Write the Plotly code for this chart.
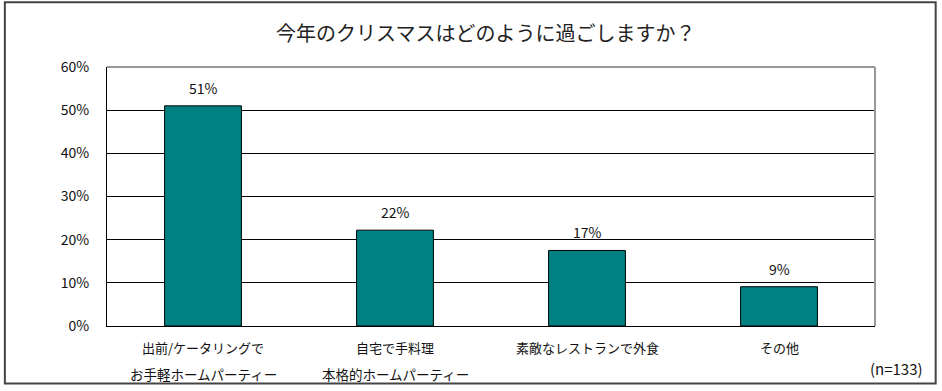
import plotly.graph_objects as go

categories = ["出前/ケータリングで", "自宅で手料理", "素敵なレストランで外食", "その他"]
second_lines = ["お手軽ホームパーティー", "本格的ホームパーティー", "", ""]
values = [51.0, 22.2, 17.5, 9.1]
value_labels = ["51%", "22%", "17%", "9%"]
tick_vals = [0, 10, 20, 30, 40, 50, 60]
tick_text = ["0%", "10%", "20%", "30%", "40%", "50%", "60%"]
title_text = "今年のクリスマスはどのように過ごしますか？"
note_text = "(n=133)"

FONT = "Noto Sans CJK JP, Noto Sans, sans-serif"

fig = go.Figure()
fig.add_trace(go.Bar(
    x=categories, y=values, width=0.4,
    marker=dict(color="#008080", line=dict(color="#000000", width=1)),
    hoverinfo="skip",
))

annotations = []
for c, v, t in zip(categories, values, value_labels):
    annotations.append(dict(x=c, y=v, text=t, xref="x", yref="y", showarrow=False,
                            yanchor="bottom", yshift=6,
                            font=dict(family=FONT, size=14, color="#111")))
for c, l2 in zip(categories, second_lines):
    annotations.append(dict(x=c, y=0, text=c, xref="x", yref="paper", showarrow=False,
                            yanchor="middle", yshift=-21,
                            font=dict(family=FONT, size=13, color="#111")))
    if l2:
        annotations.append(dict(x=c, y=0, text=l2, xref="x", yref="paper", showarrow=False,
                                yanchor="middle", yshift=-48,
                                font=dict(family=FONT, size=13.5, color="#111")))
annotations.append(dict(x=0.5, y=1, xref="paper", yref="paper", text=title_text, showarrow=False,
                        yanchor="middle", yshift=35, xshift=-6,
                        font=dict(family=FONT, size=20, color="#222")))
annotations.append(dict(x=1, y=0, xref="paper", yref="paper", text=note_text, showarrow=False,
                        xanchor="right", yanchor="middle", xshift=50, yshift=-42,
                        font=dict(family=FONT, size=15, color="#111")))

fig.update_layout(
    width=942, height=391,
    margin=dict(l=107, r=67, t=67, b=65),
    paper_bgcolor="white", plot_bgcolor="white",
    showlegend=False,
    annotations=annotations,
    bargap=0.6,
    shapes=[
        dict(type="rect", xref="paper", yref="paper", x0=-0.133, x1=1.079, y0=-0.222, y1=1.25,
             line=dict(color="#444", width=2), layer="above"),
        dict(type="line", xref="paper", yref="paper", x0=0, x1=1, y0=1, y1=1,
             line=dict(color="#999", width=2)),
        dict(type="line", xref="paper", yref="paper", x0=1, x1=1, y0=0, y1=1,
             line=dict(color="#999", width=2)),
    ],
)
fig.update_xaxes(showticklabels=False, showgrid=False, showline=True, linecolor="#000",
                 linewidth=1, ticks="", zeroline=False, fixedrange=True)
fig.update_yaxes(range=[0, 60], tickvals=tick_vals, ticktext=tick_text, showgrid=True,
                 gridcolor="#000", gridwidth=1, showline=True, linecolor="#000", linewidth=1,
                 ticks="", ticklabelstandoff=14, zeroline=False, fixedrange=True,
                 tickfont=dict(family=FONT, size=14, color="#111"))

fig.write_html("out.html", config={"displayModeBar": False},
               post_script="document.body.style.margin='0';")
